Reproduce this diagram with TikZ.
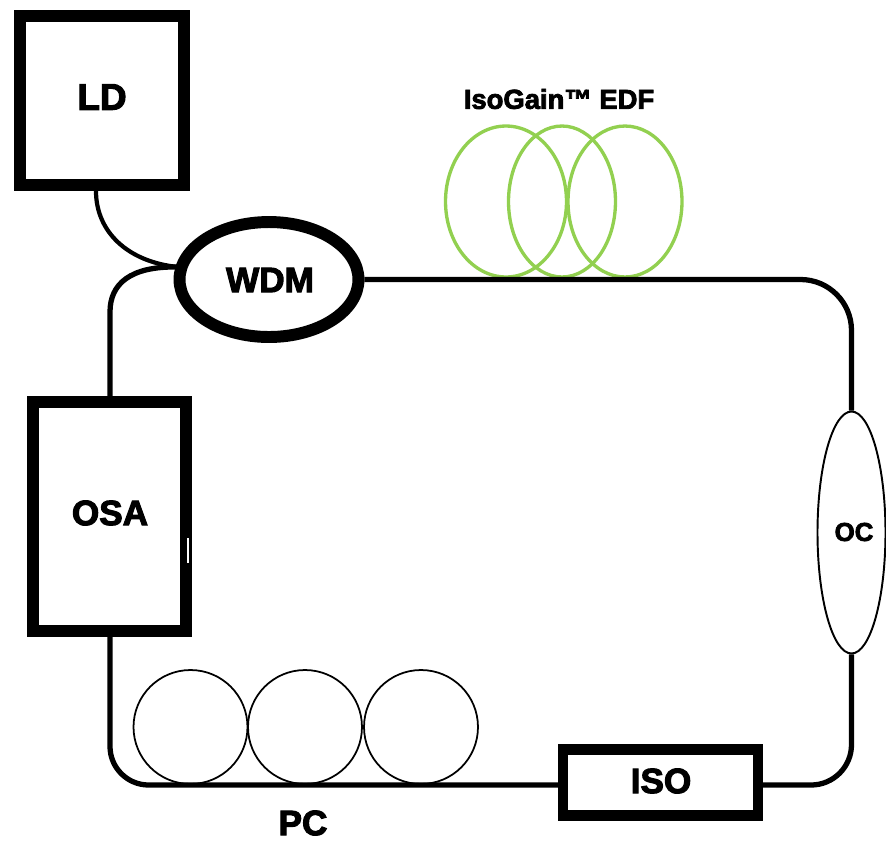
\documentclass[tikz,border=0pt]{standalone}
\usepackage{fontspec}
\usetikzlibrary{shapes.geometric}
\newfontfamily\labelfont[BoldFeatures={FakeBold=3}]{Liberation Sans}
\definecolor{edfgreen}{HTML}{92D050}

\begin{document}
\begin{tikzpicture}[x=0.02cm, y=-0.02cm,
    boxnode/.style={draw, line width=6.8pt, rectangle, inner sep=0pt},
    loopnode/.style={draw, circle, line width=1pt, minimum size=2.28cm, inner sep=0pt},
    edfnode/.style={draw=edfgreen, ellipse, line width=1.9pt, inner sep=0pt},
    txt/.style={font=\labelfont\bfseries\fontsize{20}{24}\selectfont, inner sep=0pt},
    fiber/.style={line width=3pt},
    tail/.style={line width=2.4pt}]
    \useasboundingbox (0,0) rectangle (886,843);

    \node[boxnode, minimum width=3.28cm, minimum height=3.38cm] (ld) at (102,100.5) {};
    \node[boxnode, minimum width=3.06cm, minimum height=4.58cm] (osa) at (109.5,516.5) {};
    \node[boxnode, line width=6pt, minimum width=3.9cm, minimum height=1.32cm] (iso) at (660.5,782.5) {};
    \node[draw, ellipse, line width=6.8pt, inner sep=0pt, minimum width=3.58cm, minimum height=2.3cm] (wdm) at (269,279.5) {};
    \node[draw, ellipse, line width=1.1pt, inner sep=0pt, minimum width=1.36cm, minimum height=4.84cm] (oc) at (851.5,532.5) {};

    \node[fill=white, inner sep=0pt, minimum width=0.03cm, minimum height=0.5cm] (osatick) at (188,550) {};

    \node[loopnode] (pc1) at (190.5,727) {};
    \node[loopnode] (pc2) at (305,727) {};
    \node[loopnode] (pc3) at (421,727) {};

    \node[edfnode, minimum width=2.42cm, minimum height=3.02cm] (edf1) at (506,201.5) {};
    \node[edfnode, minimum width=2.14cm, minimum height=3.02cm] (edf2) at (562,201.5) {};
    \node[edfnode, minimum width=2.28cm, minimum height=3.02cm] (edf3) at (625,201.5) {};

    \node[txt, font=\labelfont\bfseries\fontsize{21}{24}\selectfont] (ldt) at (102,97) {LD};
    \node[txt] (wdmt) at (270,280) {WDM};
    \node[txt] (osat) at (110,513) {OSA};
    \node[txt] (isot) at (661,781) {ISO};
    \node[txt] (pct) at (303,823) {PC};
    \node[txt, font=\labelfont\bfseries\fontsize{14.7}{18}\selectfont] (oct) at (854,532) {OC};
    \node[txt, font=\labelfont\bfseries\fontsize{15.6}{18}\selectfont] (edft) at (559,99) {IsoGain™ EDF};

    \coordinate (ldout) at (96,191);
    \coordinate (wdmin) at (178,267);
    \coordinate (osain) at (110,396);
    \coordinate (osaout) at (110,637);
    \coordinate (isoin) at (558,785);
    \coordinate (isoout) at (763,785);

    \draw[tail] (ldout) .. controls (96,232) and (128,262) .. (wdmin);
    \draw[fiber] (osain) -- (110,312) .. controls (110,284) and (130,266) .. (wdmin);
    \draw[fiber, rounded corners=29pt] (wdm.east) -| (oc.north);
    \draw[fiber, rounded corners=23pt] (isoout) -| (oc.south);
    \draw[fiber, rounded corners=22pt] (osaout) |- (isoin);
\end{tikzpicture}
\end{document}
